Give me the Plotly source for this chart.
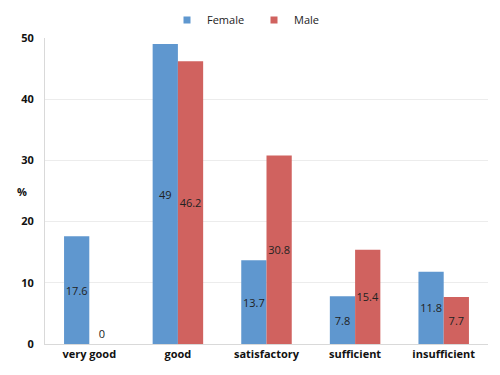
import plotly.graph_objects as go

categories = ["very good", "good", "satisfactory", "sufficient", "insufficient"]
female = [17.6, 49, 13.7, 7.8, 11.8]
male = [0, 46.2, 30.8, 15.4, 7.7]
y_ticks = [0, 10, 20, 30, 40, 50]

FONT = "Open Sans"
BLUE = "#5f97cf"
RED = "#d0625f"
TXT = "#222222"

def positions(vals):
    return ["outside" if v == 0 else "inside" for v in vals]

fig = go.Figure()
for name, vals, col in [("Female", female, BLUE), ("Male", male, RED)]:
    fig.add_trace(go.Bar(
        name=name, x=categories, y=vals, showlegend=False,
        marker=dict(color=col, line=dict(width=0)),
        text=[str(v) for v in vals], textposition=positions(vals),
        insidetextanchor="middle", textangle=0,
        textfont=dict(size=11, color=TXT, family=FONT),
        outsidetextfont=dict(size=11, color=TXT, family=FONT),
        insidetextfont=dict(size=11, color=TXT, family=FONT),
        cliponaxis=False,
    ))
for name, col in [("Female", BLUE), ("Male", RED)]:
    fig.add_trace(go.Scatter(
        name=name, x=[None], y=[None], mode="markers",
        marker=dict(symbol="square", size=7, color=col), showlegend=True,
    ))

fig.update_layout(
    width=492, height=367,
    margin=dict(l=37, r=12, t=30, b=31, autoexpand=False),
    paper_bgcolor="white", plot_bgcolor="white",
    barmode="group", bargap=0.43, bargroupgap=0,
    uniformtext=dict(minsize=11, mode="show"),
    font=dict(family=FONT, size=11, color=TXT),
    showlegend=True,
    legend=dict(orientation="h", x=0.5, xanchor="center", xref="container",
                y=1 - 12 / 367, yanchor="middle", yref="container",
                font=dict(size=11, family=FONT, color=TXT), itemwidth=30,
                entrywidth=42, entrywidthmode="pixels",
                itemsizing="trace", traceorder="normal",
                tracegroupgap=0),
    xaxis=dict(showgrid=False, showline=True, linecolor="#d9d9d9", linewidth=1,
               automargin=False, ticks="",
               tickfont=dict(size=11, family=FONT, color="#111111", weight="bold")),
    yaxis=dict(range=[0, 50], tickvals=y_ticks, showgrid=True, gridcolor="#ececec",
               gridwidth=1, showline=True, linecolor="#d9d9d9", linewidth=1,
               automargin=False, zeroline=False, ticks="", ticklabelstandoff=8,
               tickfont=dict(size=11, family=FONT, color="#111111", weight="bold")),
    annotations=[dict(text="%", xref="paper", yref="paper", x=-0.068, y=0.5,
                      showarrow=False, font=dict(size=11, family=FONT, color="#111111", weight="bold"))],
)

fig.write_html("out.html")
